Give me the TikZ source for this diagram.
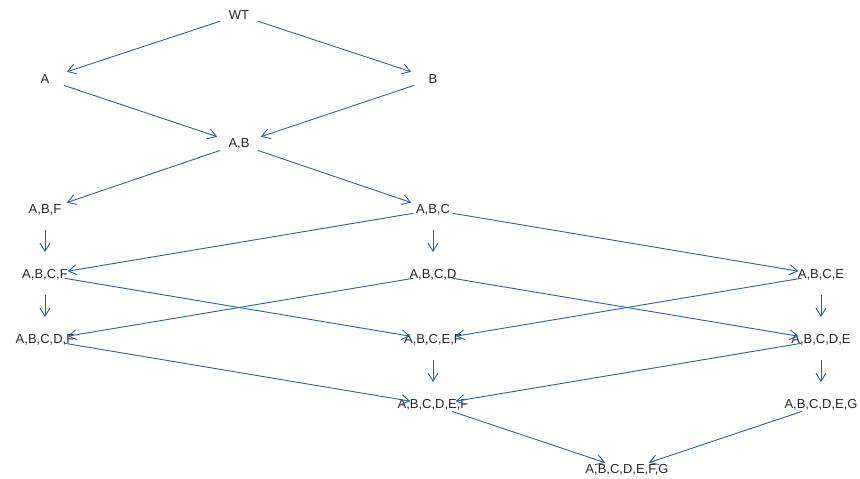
\documentclass[tikz,border=0pt]{standalone}
\usepackage{fontspec}
\setmainfont{Liberation Sans}
\usetikzlibrary{arrows.meta}
\definecolor{edgeblue}{HTML}{2A60A0}
\begin{document}
\begin{tikzpicture}[x=1pt,y=-1pt,
  lbl/.style={inner sep=0pt,font=\fontsize{13}{15}\selectfont,text=black!85},
  edge/.style={draw=edgeblue,line width=0.9pt,shorten <=20pt,shorten >=23pt,
    -{Straight Barb[length=8pt,width=10pt,line width=0.9pt]}}]
\useasboundingbox (0,0) rectangle (860,479);
\node[lbl] (wt) at (239,15) {WT};
\node[lbl] (a) at (45,79) {A};
\node[lbl] (b) at (433,79) {B};
\node[lbl] (ab) at (239,144) {A,B};
\node[lbl] (abf) at (45,210) {A,B,F};
\node[lbl] (abc) at (433,210) {A,B,C};
\node[lbl] (abcf) at (45,275) {A,B,C,F};
\node[lbl] (abcd) at (433,275) {A,B,C,D};
\node[lbl] (abce) at (821,275) {A,B,C,E};
\node[lbl] (abcdf) at (45,340) {A,B,C,D,F};
\node[lbl] (abcef) at (433,340) {A,B,C,E,F};
\node[lbl] (abcde) at (821,340) {A,B,C,D,E};
\node[lbl] (abcdef) at (433,405) {A,B,C,D,E,F};
\node[lbl] (abcdeg) at (821,405) {A,B,C,D,E,G};
\node[lbl] (abcdefg) at (627,470) {A,B,C,D,E,F,G};
\foreach \s/\t in {wt/a,wt/b,a/ab,b/ab,ab/abf,ab/abc,abf/abcf,abc/abcf,abc/abcd,abc/abce,
  abcf/abcdf,abcf/abcef,abcd/abcdf,abcd/abcde,abce/abcef,abce/abcde,
  abcdf/abcdef,abcef/abcdef,abcde/abcdef,abcde/abcdeg,abcdef/abcdefg,abcdeg/abcdefg}
  \draw[edge] (\s.center) -- (\t.center);
\end{tikzpicture}
\end{document}
